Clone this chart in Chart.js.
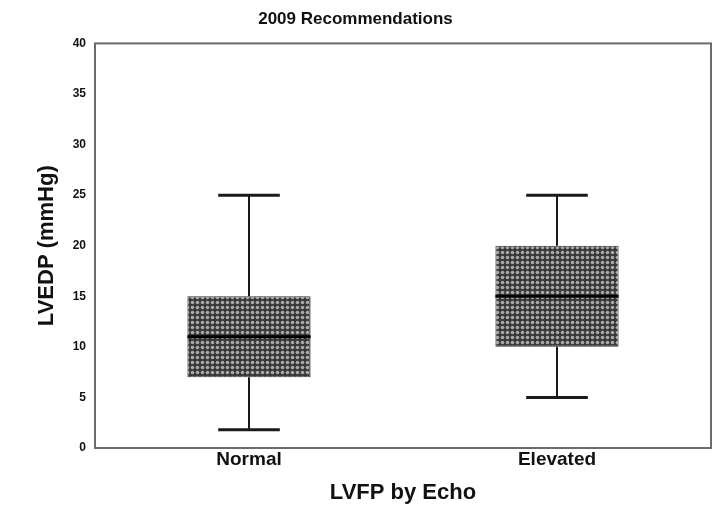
<!DOCTYPE html>
<html>
<head>
<meta charset="utf-8">
<style>
  html, body { margin: 0; padding: 0; background: #fff; }
  #wrap { width: 713px; height: 506px; }
</style>
<script src="https://cdn.jsdelivr.net/npm/chart.js@4/dist/chart.umd.min.js"></script>
</head>
<body>
<div id="wrap"><canvas id="c" width="713" height="506"></canvas></div>
<script>
// LVEDP by echo-estimated filling pressure group (box-and-whisker summary)
const categories  = ['Normal', 'Elevated'];
const whiskerLow  = [1.8, 5];
const q1          = [7, 10];
const median      = [11, 15];
const q3          = [15, 20];
const whiskerHigh = [25, 25];
const yTickValues = [0, 5, 10, 15, 20, 25, 30, 35, 40];

const FONT = '"Liberation Sans", Arial, sans-serif';
const INK = '#111';

// Halftone dot fill used for the boxes
function dotPattern() {
  const t = document.createElement('canvas');
  t.width = 5; t.height = 5;
  const g = t.getContext('2d');
  g.fillStyle = '#383838';
  g.fillRect(0, 0, 5, 5);
  g.fillStyle = '#a8a8a8';
  g.beginPath();
  g.arc(2.5, 2.5, 1.8, 0, Math.PI * 2);
  g.fill();
  return document.getElementById('c').getContext('2d').createPattern(t, 'repeat');
}

// Whiskers, caps and median lines drawn on top of the boxes
const boxParts = {
  id: 'boxParts',
  afterDatasetsDraw(chart) {
    const ctx = chart.ctx;
    const y = chart.scales.y;
    const bars = chart.getDatasetMeta(0).data;
    ctx.save();
    bars.forEach((bar, i) => {
      const x = bar.x;
      const half = bar.width / 2;
      const capHalf = bar.width / 4;
      const yLo = y.getPixelForValue(whiskerLow[i]);
      const yQ1 = y.getPixelForValue(q1[i]);
      const yMed = y.getPixelForValue(median[i]);
      const yQ3 = y.getPixelForValue(q3[i]);
      const yHi = y.getPixelForValue(whiskerHigh[i]);
      ctx.strokeStyle = '#1a1a1a';
      ctx.lineWidth = 2;
      ctx.beginPath();
      ctx.moveTo(x, yHi); ctx.lineTo(x, yQ3);
      ctx.moveTo(x, yQ1); ctx.lineTo(x, yLo);
      ctx.stroke();
      ctx.lineWidth = 3;
      ctx.beginPath();
      ctx.moveTo(x - capHalf, yHi); ctx.lineTo(x + capHalf, yHi);
      ctx.moveTo(x - capHalf, yLo); ctx.lineTo(x + capHalf, yLo);
      ctx.stroke();
      ctx.strokeStyle = '#000';
      ctx.lineWidth = 3;
      ctx.beginPath();
      ctx.moveTo(x - half, yMed); ctx.lineTo(x + half, yMed);
      ctx.stroke();
    });
    ctx.restore();
  }
};

// Closed frame around the plotting area
const frame = {
  id: 'frame',
  afterDraw(chart) {
    const a = chart.chartArea;
    const ctx = chart.ctx;
    ctx.save();
    ctx.strokeStyle = '#6b6b6b';
    ctx.lineWidth = 2;
    ctx.strokeRect(a.left, a.top, a.right - a.left, a.bottom - a.top);
    ctx.restore();
  }
};

new Chart(document.getElementById('c'), {
  type: 'bar',
  data: {
    labels: categories,
    datasets: [{
      data: categories.map((_, i) => [q1[i], q3[i]]),
      backgroundColor: dotPattern(),
      borderColor: '#333',
      borderWidth: 1,
      borderSkipped: false,
      categoryPercentage: 1,
      barPercentage: 0.4
    }]
  },
  options: {
    responsive: false,
    animation: false,
    events: [],
    layout: { padding: { left: 0, right: 2, top: 0, bottom: 0 } },
    plugins: {
      legend: { display: false },
      tooltip: { enabled: false },
      title: {
        display: true,
        text: '2009 Recommendations',
        color: INK,
        font: { family: FONT, size: 17, weight: 'bold', lineHeight: 1.2 },
        padding: { top: 9, bottom: 14 }
      }
    },
    scales: {
      x: {
        grid: { display: false, drawTicks: false },
        border: { display: false },
        ticks: {
          color: INK,
          padding: 0,
          font: { family: FONT, size: 19, weight: 'bold' }
        },
        title: {
          display: true,
          text: 'LVFP by Echo',
          color: INK,
          font: { family: FONT, size: 22, weight: 'bold', lineHeight: 1.2 },
          padding: { top: 4, bottom: 0 }
        },
        afterFit(scale) { scale.height = 58; }
      },
      y: {
        min: 0,
        max: 40,
        grid: { display: false, drawTicks: false },
        border: { display: false },
        afterBuildTicks(scale) { scale.ticks = yTickValues.map(v => ({ value: v })); },
        ticks: {
          color: INK,
          padding: 9,
          font: { family: FONT, size: 12, weight: 'bold' }
        },
        title: {
          display: true,
          text: 'LVEDP (mmHg)',
          color: INK,
          font: { family: FONT, size: 22, weight: 'bold', lineHeight: 1.2 },
          padding: { top: 34, bottom: 0 }
        },
        afterFit(scale) { scale.width = 95; }
      }
    }
  },
  plugins: [boxParts, frame]
});
</script>
</body>
</html>
